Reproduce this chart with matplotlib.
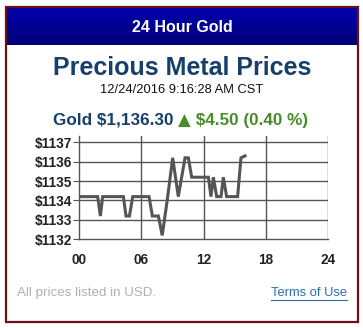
import numpy as np
import matplotlib.pyplot as plt
from matplotlib.patches import Rectangle
from matplotlib.colors import LinearSegmentedColormap

plt.rcParams['font.family'] = ['Liberation Sans', 'DejaVu Sans']

# gold price over the day (hour, usd)
hours = [0.0, 1.8, 2.06, 2.28, 4.28, 4.53, 4.86, 5.18, 6.75, 7.07, 7.65, 8.02,
         8.5, 9.03, 9.57, 10.22, 10.54, 10.86, 12.47, 12.72, 12.95, 13.27,
         13.69, 13.91, 14.23, 15.29, 15.61, 16.0]
prices = [1134.2, 1134.2, 1133.2, 1134.2, 1134.2, 1133.2, 1133.2, 1134.2,
          1134.2, 1133.2, 1133.2, 1132.2, 1134.0, 1136.2, 1134.2, 1136.2,
          1136.2, 1135.2, 1135.2, 1134.2, 1135.2, 1134.2, 1134.2, 1135.2,
          1134.2, 1134.2, 1136.2, 1136.3]
xticks = [0, 6, 12, 18, 24]
xlabels = ['00', '06', '12', '18', '24']
yticks = [1132, 1133, 1134, 1135, 1136, 1137]

W, H = 363, 328
fig = plt.figure(figsize=(W / 100, H / 100), dpi=100)

def fx(px):
    return px / W

def fy(py):
    return 1 - py / H

# header gradient bar
hax = fig.add_axes([fx(7), fy(45), fx(350), fy(8) - fy(45)])
grad = np.linspace(0, 1, 50).reshape(-1, 1)
cmap = LinearSegmentedColormap.from_list('hdr', ['#0000ac', '#000078'])
hax.imshow(grad, aspect='auto', cmap=cmap, extent=[0, 1, 0, 1])
hax.axis('off')
fig.text(fx(182), fy(27), '24 Hour Gold', color='white', fontsize=11.5,
         fontweight='bold', ha='center', va='center')

# outer frame
fig.patches.append(Rectangle((fx(6), fy(322)), fx(352), fy(7) - fy(322),
                             transform=fig.transFigure, fill=False,
                             edgecolor='#6a1018', lw=1.6))

fig.text(fx(182), fy(68), 'Precious Metal Prices', color='#163f6b',
         fontsize=18, fontweight='bold', ha='center', va='center')
fig.text(fx(182), fy(90), '12/24/2016 9:16:28 AM CST', color='#111111',
         fontsize=9.3, ha='center', va='center')

# price line
t1 = fig.text(fx(53), fy(120), 'Gold $1,136.30 ', color='#163f6b',
              fontsize=12.3, fontweight='bold', ha='left', va='center')
fig.canvas.draw()
bb = t1.get_window_extent()
x2 = bb.x1 / fig.bbox.width
t2 = fig.text(x2, fy(120.5), '\u25B2', color='#4a8c2c', fontsize=12,
              ha='left', va='center', family='DejaVu Sans')
fig.canvas.draw()
x3 = t2.get_window_extent().x1 / fig.bbox.width
fig.text(x3, fy(120), ' $4.50 (0.40 %)', color='#4a8c2c', fontsize=12.3,
         fontweight='bold', ha='left', va='center')

# chart
ytop = 1137.35
ax = fig.add_axes([fx(79), fy(239.3), fx(328) - fx(79),
                   (ytop - 1132) * 19.4 / H])
ax.plot(hours, prices, color='#555555', lw=2.2, solid_joinstyle='miter')
ax.set_xlim(0, 24)
ax.set_ylim(1132, ytop)
ax.set_xticks(xticks)
ax.set_xticklabels(xlabels)
ax.set_yticks(yticks)
ax.set_yticklabels(['$%d' % v for v in yticks])
for v in yticks[1:]:
    ax.axhline(v, color='#555555', lw=1.0, zorder=0)
for v in xticks[1:]:
    ax.axvline(v, color='#555555', lw=1.0, zorder=0)
for s in ['top', 'right']:
    ax.spines[s].set_visible(False)
for s in ['left', 'bottom']:
    ax.spines[s].set_color('#555555')
    ax.spines[s].set_linewidth(1.0)
ax.tick_params(axis='y', length=4, width=0.8, color='#555555', pad=1,
               labelsize=9.8)
ax.tick_params(axis='x', length=0, pad=10, labelsize=9.8)
for lab in ax.get_xticklabels() + ax.get_yticklabels():
    lab.set_fontweight('bold')
    lab.set_color('#222222')

# footer
fig.text(fx(17), fy(293), 'All prices listed in USD.', color='#b0b0b0',
         fontsize=9.6, ha='left', va='center')
fig.text(fx(347), fy(293), 'Terms of Use', color='#2a6db5',
         fontsize=9.3, ha='right', va='center')
fig.add_artist(plt.Line2D([fx(271), fx(347)], [fy(300), fy(300)],
                          transform=fig.transFigure, color='#2a6db5', lw=0.8))

fig.savefig('out.png', dpi=100)
